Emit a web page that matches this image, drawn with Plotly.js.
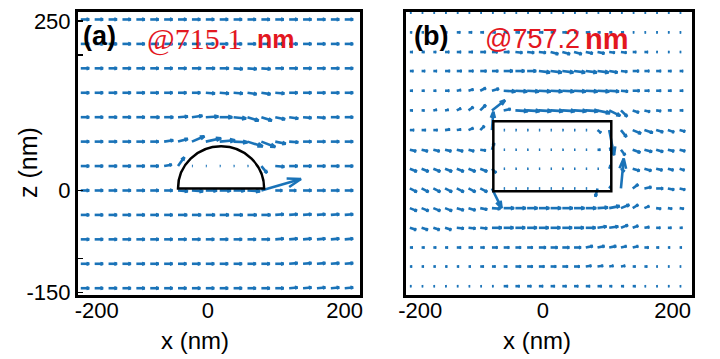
<!DOCTYPE html>
<html><head><meta charset="utf-8">
<script src="https://cdn.plot.ly/plotly-3.0.1.min.js"></script>
<style>html,body{margin:0;padding:0;background:#fff}#plot{width:720px;height:359px}</style>
</head><body><div id="plot"></div>
<script>
// ---------- Panel (a): hemisphere @715.1 nm ----------
const A_X = [-180,-160,-140,-120,-100,-80,-60,-40,-20,0,20,40,60,80,100,120,140,160,180,200];
const A_Z = [252,216,180,144,108,72,36,0,-36,-72,-108,-144];
const A_U = [
 [12,12,12,12,12,12,12,12,12,12,12,12,12,12,12,12,12,12,12,12],
 [12,12,12,12,12,12,12,12,12,12,12,12,12,12,12,12,12,12,12,12],
 [12,12,12,12,12,12,12,12,13,13,13,13,13,13,12,12,12,12,12,12],
 [12,12,12,12,12,12,12,12,12,13,13,13,13,13,13,12,12,12,12,12],
 [12,12,12,12,12,13,13,14,15,18,18,18,16,15,14,13,12,12,12,12],
 [12,12,12,12,12,12,13,14,18,22,22,20,22,20,15,13,12,12,12,12],
 [12,12,12,12,12,12,11,9,1,1,1,1,1,8,13,12,12,12,12,12],
 [12,12,12,12,12,12,12,14,16,16,16,16,18,57,10,10,12,12,12,12],
 [12,12,12,12,12,12,12,13,13,13,13,13,13,13,12,12,12,12,12,12],
 [12,12,12,12,12,12,12,12,12,12,12,12,12,12,12,12,12,12,12,12],
 [12,12,12,12,12,12,12,12,12,12,12,12,12,12,12,12,12,12,12,12],
 [12,12,12,12,12,12,12,12,12,12,12,12,12,12,12,12,12,12,12,12]
];
const A_W = [
 [0,0,0,0,0,0,0,0,0,0,0,0,0,0,0,0,0,0,0,0],
 [0,0,0,0,0,0,0,0,0,0,0,0,0,0,0,0,0,0,0,0],
 [0,0,0,0,0,0,0,0,0,0,0,-1,-1,-1,0,0,0,0,0,0],
 [0,0,0,0,0,0,0,0,0,-1,-1,-1,-2,-2,-1,0,0,0,0,0],
 [0,0,0,0,0,0,0,1,2,1,0,-2,-5,-5,-3,-2,-1,-1,0,0],
 [0,0,0,0,0,0,2,4,8,5,2,-1,-7,-8,-3,-1,0,0,0,0],
 [0,0,0,0,0,0,2,13,0,0,0,0,0,-10,-1,0,0,0,0,0],
 [0,0,0,0,0,0,0,-1,-1,0,0,0,-1,17,0,0,0,0,0,0],
 [0,0,0,0,0,0,0,0,0,0,0,0,0,0,1,1,1,1,1,1],
 [0,0,0,0,0,0,0,0,0,0,0,0,0,0,1,1,1,1,1,1],
 [0,0,0,0,0,0,0,0,0,0,0,0,0,0,0,1,1,1,1,1],
 [0,0,0,0,0,0,0,0,0,0,0,0,0,0,0,1,1,1,1,1]
];

// ---------- Panel (b): rectangle @757.2 nm ----------
const B_X = [-193,-176,-159,-142,-125,-108,-91,-74,-57,-40,-23,-6,11,28,45,62,79,96,113,130,147,164,181,198];
const B_Z = [262,233,204,176,147,118,89,60,32,3,-26,-55,-84,-112,-141];
const B_U = [
 [2,2,2,2,2,2,2,2,2,2,2,2,2,2,2,2,2,2,2,2,2,2,2,2],
 [3,3,3,3,5,5,5,5,6,6,6,6,6,6,6,6,4,4,4,2,2,2,2,2],
 [4,4,4,6,6,6,8,8,8,10,10,10,11,11,11,10,10,8,8,5,5,2,2,2],
 [5,5,5,7,7,7,9,9,13,13,13,16,16,16,16,16,16,12,9,9,7,7,5,5],
 [4,4,4,6,6,7,8,10,17,17,17,17,17,17,17,17,17,14,10,10,7,7,5,5],
 [4,4,5,5,6,7,8,19,10,18,18,18,18,18,18,18,18,16,9,9,8,7,5,5],
 [6,6,6,7,6,7,6,2,1.5,1.5,1.5,1.5,1.5,1.5,1.5,1.5,5,7,8,12,12,10,9,8],
 [9,9,9,9,9,8,8,3,1.5,1.5,1.5,1.5,1.5,1.5,1.5,1.5,4,2,6,11,11,10,9,8],
 [10,10,10,10,10,10,10,6,1.5,1.5,1.5,1.5,1.5,1.5,1.5,1.5,1.5,2,5,10,10,9,8,7],
 [10,10,10,10,10,10,10,14,1.5,1.5,1.5,1.5,1.5,1.5,1.5,1.5,-3,2,4,8,10,10,9,8],
 [10,10,10,10,10,10,10,12,15,15,15,15,15,15,15,15,15,15,12,8,7,7,6,6],
 [9,9,9,9,10,10,10,14,14,14,14,14,14,14,14,14,13,13,10,8,7,6,5,4],
 [4,4,4,4,6,6,6,8,8,8,8,10,10,10,10,10,10,10,8,8,6,4,3,3],
 [3,3,3,3,3,3,5,5,5,8,8,8,8,8,8,8,8,6,6,4,4,2,2,2],
 [2,2,2,2,2,2,2,2,6,6,6,6,6,6,6,6,6,4,4,4,2,2,2,2]
];
const B_W = [
 [0,0,0,0,0,0,0,0,0,0,0,0,0,0,0,0,0,0,0,0,0,0,0,0],
 [0,0,0,0,0,0,0,0,0,0,0,0,0,0,0,0,0,0,0,0,0,0,0,0],
 [0,0,0,0,0,0,0,0,0,-1,-1,-1,-3,-3,-3,-2,-2,-1,-1,0,0,0,0,0],
 [0,0,0,0,0,0,0,0,0,0,0,-2,-2,-2,-2,-2,-2,-2,-1,0,0,0,0,0],
 [0,0,0,0,1,2,4,3,-1,-1,-1,-1,-1,-1,-1,-1,-1,-1,-1,0,0,0,0,0],
 [0,0,1,1,3,5,8,15,2,-1,-1,-1,-1,-1,-1,-1,-4,-8,-9,-3,-2,-1,0,0],
 [0,0,0,1,1,3,6,27,0,0,0,0,0,0,0,0,-4,-37,-10,-5,-4,-3,-3,-2],
 [-2,-2,-2,-2,-2,-2,-1,10,0,0,0,0,0,0,0,0,0,0,-8,-4,-3,-3,-2,-2],
 [-4,-4,-4,-4,-4,-4,-4,-6,0,0,0,0,0,0,0,0,0,5,-4,-3,-3,-2,-2,-2],
 [-5,-5,-5,-5,-5,-5,-5,-29,0,0,0,0,0,0,0,0,-12,3,44,6,2,0,-2,-2],
 [-4,-4,-4,-4,-3,-3,-2,-1,0,0,0,0,0,0,0,0,1,3,5,5,3,-1,-1,-1],
 [-3,-3,-3,-3,-1,-1,-1,0,0,0,0,0,0,0,0,0,2,2,4,3,1,0,0,0],
 [0,0,0,0,0,0,0,0,0,0,0,0,0,0,0,2,2,2,2,2,0,0,0,0],
 [0,0,0,0,0,0,0,0,0,0,0,0,0,0,0,1,1,1,1,0,0,0,0,0],
 [0,0,0,0,0,0,0,0,0,0,0,0,0,0,0,0,0,0,0,0,0,0,0,0]
];

// tick labels
const Y_TICKVALS = [250, 200, 0, -100, -150];
const Y_TICKTEXT = ['250', '', '0', '', '-150'];
const XA_TICKVALS = [-157, 3, 200];
const XB_TICKVALS = [-178, 0, 188];
const X_TICKTEXT = ['-200', '0', '200'];

// particle outlines (geometry)
const HEMI = {cx: 22, z0: 3, r: 62};
const RECT = {x0: -72, x1: 99, z0: -1, z1: 102};

const BLUE = '#1a73b8';
const RED = '#e3171f';

function quiver(X, Z, U, W, xa, ya) {
  const xs = [], ys = [];
  const a = 0.33, b = 0.33;
  for (let i = 0; i < Z.length; i++) {
    for (let j = 0; j < X.length; j++) {
      const x = X[j], z = Z[i], u = U[i][j], w = W[i][j];
      const x1 = x + u, z1 = z + w;
      xs.push(x, x1, null);
      ys.push(z, z1, null);
      xs.push(x1 - a * (u + b * w), x1, x1 - a * (u - b * w), null);
      ys.push(z1 - a * (w - b * u), z1, z1 - a * (w + b * u), null);
    }
  }
  return {type: 'scatter', mode: 'lines', x: xs, y: ys, xaxis: xa, yaxis: ya,
    line: {color: BLUE, width: 2.6}, hoverinfo: 'skip', showlegend: false};
}

const data = [
  quiver(A_X, A_Z, A_U, A_W, 'x', 'y'),
  quiver(B_X, B_Z, B_U, B_W, 'x2', 'y2')
];

const k = 0.5523;
const h = HEMI;
const hemiPath = `M ${h.cx - h.r},${h.z0} C ${h.cx - h.r},${h.z0 + k*h.r} ${h.cx - k*h.r},${h.z0 + h.r} ${h.cx},${h.z0 + h.r} ` +
  `C ${h.cx + k*h.r},${h.z0 + h.r} ${h.cx + h.r},${h.z0 + k*h.r} ${h.cx + h.r},${h.z0} Z`;

const FONT = 'Liberation Sans, Arial, sans-serif';
const axCommon = {showgrid: false, zeroline: false, showline: true, mirror: true,
  linecolor: '#000', linewidth: 3, fixedrange: true,
  tickfont: {family: FONT, size: 22, color: '#000'}};

const layout = {
  width: 720, height: 359,
  margin: {l: 78, r: 28, t: 12, b: 64, pad: 0},
  paper_bgcolor: '#fff', plot_bgcolor: '#fff',
  showlegend: false,
  xaxis: Object.assign({}, axCommon, {domain: [0, 0.4593], range: [-184, 222],
    tickmode: 'array', tickvals: XA_TICKVALS, ticktext: X_TICKTEXT, ticks: '', ticklen: 0, ticklabelstandoff: -6}),
  yaxis: Object.assign({}, axCommon, {domain: [0, 1], range: [-154, 263],
    tickmode: 'array', tickvals: Y_TICKVALS, ticktext: Y_TICKTEXT, ticks: 'inside', ticklen: 5, tickwidth: 1.5, tickcolor: '#000'}),
  xaxis2: Object.assign({}, axCommon, {domain: [0.5342, 1], range: [-198.6, 216], anchor: 'y2',
    tickmode: 'array', tickvals: XB_TICKVALS, ticktext: X_TICKTEXT, ticks: '', ticklen: 0, ticklabelstandoff: -6}),
  yaxis2: Object.assign({}, axCommon, {domain: [0, 1], range: [-154, 263], anchor: 'x2',
    showticklabels: false, ticks: ''}),
  shapes: [
    {type: 'path', xref: 'x', yref: 'y', path: hemiPath, line: {color: '#000', width: 2.5}, layer: 'above'},
    {type: 'rect', xref: 'x2', yref: 'y2', x0: RECT.x0, x1: RECT.x1, y0: RECT.z0, y1: RECT.z1,
      line: {color: '#000', width: 2.5}, layer: 'above'}
  ],
  annotations: [
    {text: '<b>(a)</b>', xref: 'paper', yref: 'paper', x: 0.0358, y: 0.915, xanchor: 'center', yanchor: 'middle',
      showarrow: false, font: {family: FONT, size: 27, color: '#000'}},
    {text: '@715.1', xref: 'paper', yref: 'paper', x: 0.1091, y: 0.905, xanchor: 'left', yanchor: 'middle',
      showarrow: false, font: {family: 'Liberation Serif, Times New Roman, serif', size: 30, color: RED}},
    {text: '<b>nm</b>', xref: 'paper', yref: 'paper', x: 0.2890, y: 0.905, xanchor: 'left', yanchor: 'middle',
      showarrow: false, font: {family: FONT, size: 25, color: RED}},
    {text: '<b>(b)</b>', xref: 'paper', yref: 'paper', x: 0.5749, y: 0.915, xanchor: 'center', yanchor: 'middle',
      showarrow: false, font: {family: FONT, size: 27, color: '#000'}},
    {text: '@757.2', xref: 'paper', yref: 'paper', x: 0.6596, y: 0.905, xanchor: 'left', yanchor: 'middle',
      showarrow: false, font: {family: FONT, size: 27, color: RED}},
    {text: '<b>nm</b>', xref: 'paper', yref: 'paper', x: 0.8225, y: 0.905, xanchor: 'left', yanchor: 'middle',
      showarrow: false, font: {family: FONT, size: 29, color: RED}},
    {text: 'z (nm)', xref: 'paper', yref: 'paper', x: -0.0814, y: 0.4664, xanchor: 'center', yanchor: 'middle',
      textangle: -90, showarrow: false, font: {family: FONT, size: 25, color: '#000'}},
    {text: 'x (nm)', xref: 'paper', yref: 'paper', x: 0.1906, y: -0.162, xanchor: 'center', yanchor: 'middle',
      showarrow: false, font: {family: FONT, size: 24, color: '#000'}},
    {text: 'x (nm)', xref: 'paper', yref: 'paper', x: 0.7476, y: -0.162, xanchor: 'center', yanchor: 'middle',
      showarrow: false, font: {family: FONT, size: 24, color: '#000'}}
  ]
};

Plotly.newPlot('plot', data, layout, {staticPlot: true, displayModeBar: false});
</script></body></html>
